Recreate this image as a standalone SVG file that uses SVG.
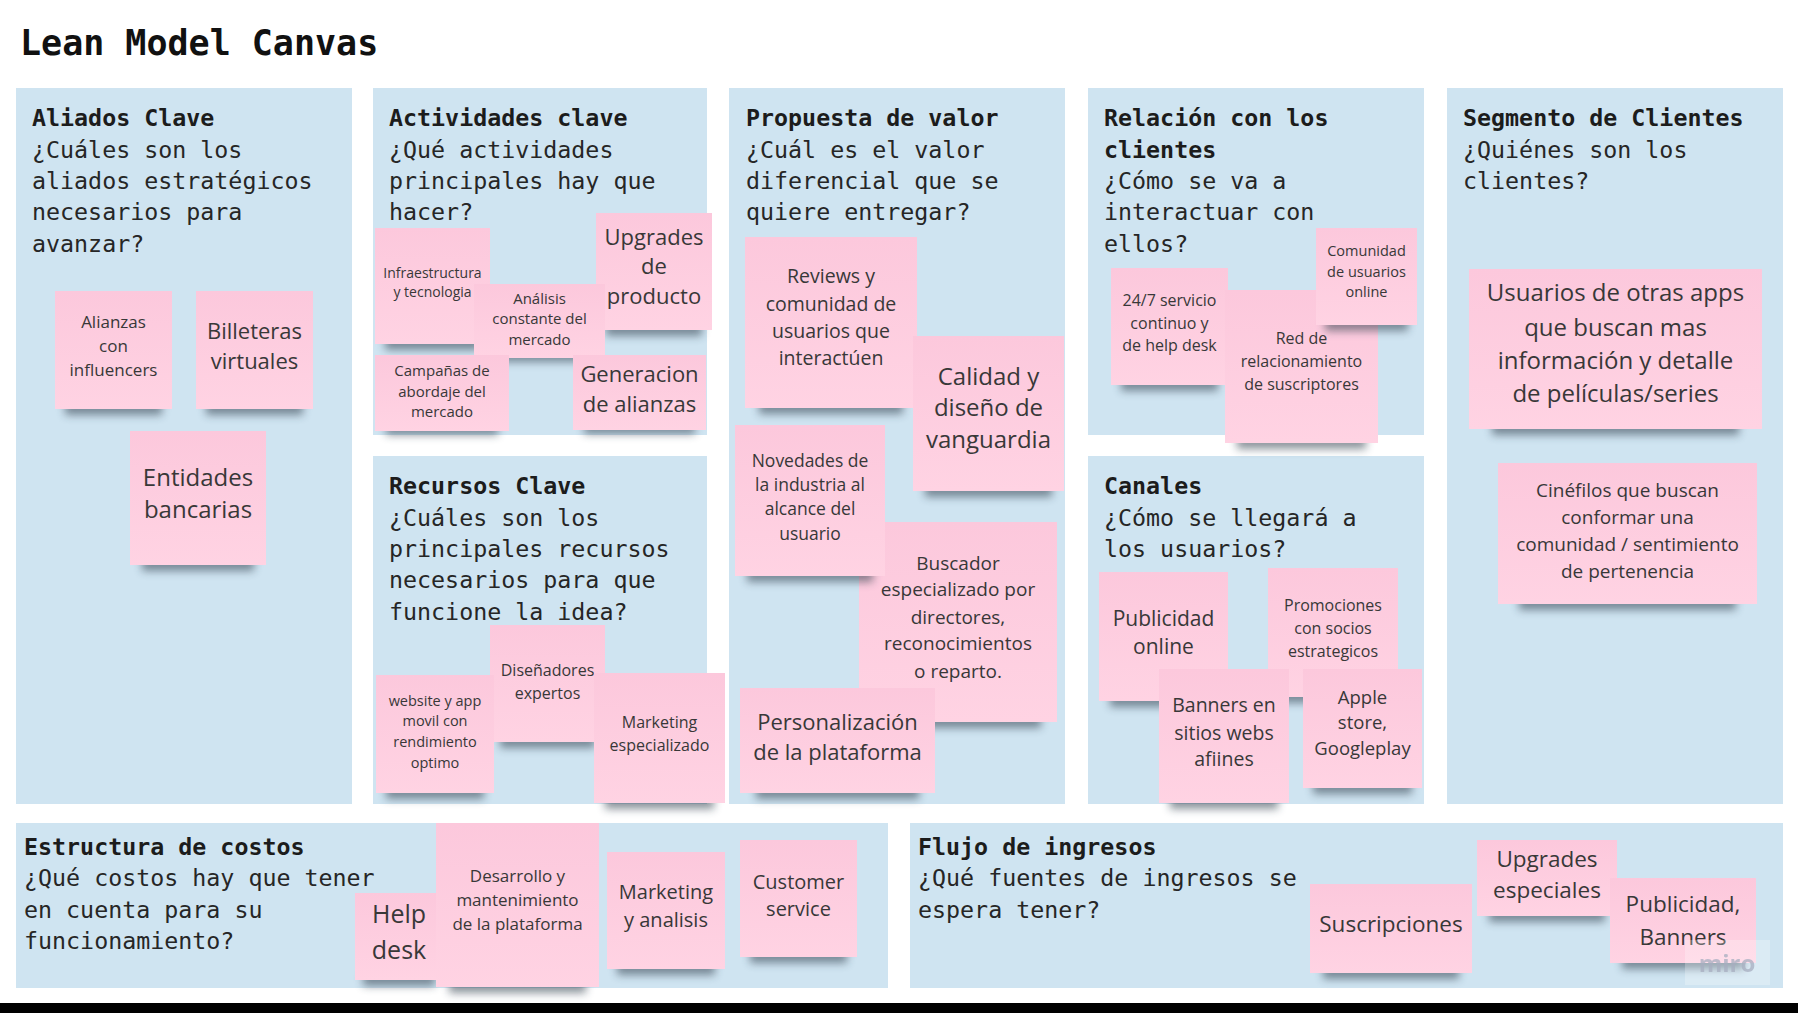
<svg xmlns="http://www.w3.org/2000/svg" width="1798" height="1013" viewBox="0 0 1798 1013">
<defs>
<linearGradient id="pk" x1="0" y1="0" x2="0" y2="1">
<stop offset="0" stop-color="#fcc8dc"/>
<stop offset="1" stop-color="#ffd3e3"/>
</linearGradient>
<filter id="bl" x="-20%" y="-100%" width="140%" height="300%">
<feGaussianBlur stdDeviation="4"/>
</filter>
</defs>
<style>
.pn{fill:#cfe4f1}
.st{fill:url(#pk)}
.sh{fill:#2f3d4b;opacity:.55;filter:url(#bl)}
.t{font-family:"Open Sans","Noto Sans",sans-serif;fill:#383838;text-anchor:middle}
.h{font-family:"DejaVu Sans Mono","Liberation Mono",monospace;font-size:23.3px;fill:#1c1c1c;font-weight:bold}
.q{font-family:"DejaVu Sans Mono","Liberation Mono",monospace;font-size:23.3px;fill:#262626}
</style>
<rect width="1798" height="1013" fill="#ffffff"/>
<text x="20" y="55" font-family="DejaVu Sans Mono, Liberation Mono, monospace" font-size="35" font-weight="bold" fill="#111">Lean Model Canvas</text>

<g id="panels">
<g id="aliados"><rect class="pn" x="16" y="88" width="336" height="716"/>
<text class="h" x="32" y="126">Aliados Clave</text>
<text class="q" x="32" y="157.5">¿Cuáles son los</text>
<text class="q" x="32" y="189">aliados estratégicos</text>
<text class="q" x="32" y="220">necesarios para</text>
<text class="q" x="32" y="251.5">avanzar?</text></g>
<g id="actividades"><rect class="pn" x="373" y="88" width="334" height="347"/>
<text class="h" x="389" y="126">Actividades clave</text>
<text class="q" x="389" y="157.5">¿Qué actividades</text>
<text class="q" x="389" y="189">principales hay que</text>
<text class="q" x="389" y="220">hacer?</text></g>
<g id="recursos"><rect class="pn" x="373" y="456" width="334" height="348"/>
<text class="h" x="389" y="494">Recursos Clave</text>
<text class="q" x="389" y="525.5">¿Cuáles son los</text>
<text class="q" x="389" y="557">principales recursos</text>
<text class="q" x="389" y="588">necesarios para que</text>
<text class="q" x="389" y="619.5">funcione la idea?</text></g>
<g id="propuesta"><rect class="pn" x="729" y="88" width="336" height="716"/>
<text class="h" x="746" y="126">Propuesta de valor</text>
<text class="q" x="746" y="157.5">¿Cuál es el valor</text>
<text class="q" x="746" y="189">diferencial que se</text>
<text class="q" x="746" y="220">quiere entregar?</text></g>
<g id="relacion"><rect class="pn" x="1088" y="88" width="336" height="347"/>
<text class="h" x="1104" y="126">Relación con los</text>
<text class="h" x="1104" y="157.5">clientes</text>
<text class="q" x="1104" y="189">¿Cómo se va a</text>
<text class="q" x="1104" y="220">interactuar con</text>
<text class="q" x="1104" y="251.5">ellos?</text></g>
<g id="canales"><rect class="pn" x="1088" y="456" width="336" height="348"/>
<text class="h" x="1104" y="494">Canales</text>
<text class="q" x="1104" y="525.5">¿Cómo se llegará a</text>
<text class="q" x="1104" y="557">los usuarios?</text></g>
<g id="segmento"><rect class="pn" x="1447" y="88" width="336" height="716"/>
<text class="h" x="1463" y="126">Segmento de Clientes</text>
<text class="q" x="1463" y="157.5">¿Quiénes son los</text>
<text class="q" x="1463" y="189">clientes?</text></g>
<g id="estructura"><rect class="pn" x="16" y="823" width="872" height="165"/>
<text class="h" x="24" y="854.5">Estructura de costos</text>
<text class="q" x="24" y="886">¿Qué costos hay que tener</text>
<text class="q" x="24" y="917.5">en cuenta para su</text>
<text class="q" x="24" y="949">funcionamiento?</text></g>
<g id="flujo"><rect class="pn" x="910" y="823" width="873" height="165"/>
<text class="h" x="918" y="854.5">Flujo de ingresos</text>
<text class="q" x="918" y="886">¿Qué fuentes de ingresos se</text>
<text class="q" x="918" y="917.5">espera tener?</text></g>
</g>

<g id="stickies">
<g id="s-alianzas"><rect class="sh" x="65" y="401" width="97" height="14"/><rect class="st" x="55" y="291" width="117" height="118"/>
<text class="t" font-size="17" x="113.5"><tspan x="113.5" y="328">Alianzas</tspan><tspan x="113.5" y="352">con</tspan><tspan x="113.5" y="376">influencers</tspan></text></g>
<g id="s-billeteras"><rect class="sh" x="206" y="401" width="97" height="14"/><rect class="st" x="196" y="291" width="117" height="118"/>
<text class="t" font-size="22"><tspan x="254.5" y="339">Billeteras</tspan><tspan x="254.5" y="369">virtuales</tspan></text></g>
<g id="s-entidades"><rect class="sh" x="142" y="557" width="112" height="14"/><rect class="st" x="130" y="431" width="136" height="134"/>
<text class="t" font-size="24"><tspan x="198" y="486">Entidades</tspan><tspan x="198" y="518">bancarias</tspan></text></g>

<g id="s-infra"><rect class="sh" x="385" y="336" width="95" height="14"/><rect class="st" x="375" y="228" width="115" height="116"/>
<text class="t" font-size="14"><tspan x="432.5" y="278">Infraestructura</tspan><tspan x="432.5" y="297">y tecnologia</tspan></text></g>
<g id="s-upgrades"><rect class="sh" x="606" y="322" width="96" height="14"/><rect class="st" x="596" y="213" width="116" height="117"/>
<text class="t" font-size="22"><tspan x="654" y="245">Upgrades</tspan><tspan x="654" y="274">de</tspan><tspan x="654" y="304">producto</tspan></text></g>
<g id="s-analisis"><rect class="sh" x="485" y="350" width="109" height="12"/><rect class="st" x="474" y="284" width="131" height="74"/>
<text class="t" font-size="15"><tspan x="539.5" y="303.5">Análisis</tspan><tspan x="539.5" y="323.5">constante del</tspan><tspan x="539.5" y="344.5">mercado</tspan></text></g>
<g id="s-campanas"><rect class="sh" x="386" y="423" width="112" height="12"/><rect class="st" x="375" y="355" width="134" height="76"/>
<text class="t" font-size="15"><tspan x="442" y="375.5">Campañas de</tspan><tspan x="442" y="396.5">abordaje del</tspan><tspan x="442" y="416.5">mercado</tspan></text></g>
<g id="s-generacion"><rect class="sh" x="584" y="422" width="111" height="12"/><rect class="st" x="573" y="355" width="133" height="75"/>
<text class="t" font-size="22"><tspan x="639.5" y="382">Generacion</tspan><tspan x="639.5" y="412">de alianzas</tspan></text></g>

<g id="s-disenadores"><rect class="sh" x="500" y="734" width="95" height="14"/><rect class="st" x="490" y="625" width="115" height="117"/>
<text class="t" font-size="16"><tspan x="547.5" y="675.5">Diseñadores</tspan><tspan x="547.5" y="698.5">expertos</tspan></text></g>
<g id="s-website"><rect class="sh" x="386" y="785" width="98" height="14"/><rect class="st" x="376" y="675" width="118" height="118"/>
<text class="t" font-size="14.5"><tspan x="435" y="706">website y app</tspan><tspan x="435" y="726">movil con</tspan><tspan x="435" y="747">rendimiento</tspan><tspan x="435" y="768">optimo</tspan></text></g>
<g id="s-marketing-esp"><rect class="sh" x="605" y="795" width="109" height="14"/><rect class="st" x="594" y="673" width="131" height="130"/>
<text class="t" font-size="16"><tspan x="659.5" y="727.5">Marketing</tspan><tspan x="659.5" y="750.5">especializado</tspan></text></g>

<g id="s-reviews"><rect class="sh" x="759" y="400" width="144" height="14"/><rect class="st" x="745" y="237" width="172" height="171"/>
<text class="t" font-size="19.5"><tspan x="831" y="283">Reviews y</tspan><tspan x="831" y="311">comunidad de</tspan><tspan x="831" y="338">usuarios que</tspan><tspan x="831" y="365">interactúen</tspan></text></g>
<g id="s-calidad"><rect class="sh" x="925" y="483" width="127" height="14"/><rect class="st" x="913" y="336" width="151" height="155"/>
<text class="t" font-size="24"><tspan x="988.5" y="385">Calidad y</tspan><tspan x="988.5" y="416">diseño de</tspan><tspan x="988.5" y="448">vanguardia</tspan></text></g>
<g id="s-buscador"><rect class="sh" x="875" y="714" width="166" height="14"/><rect class="st" x="859" y="522" width="198" height="200"/>
<text class="t" font-size="19"><tspan x="958" y="570">Buscador</tspan><tspan x="958" y="596">especializado por</tspan><tspan x="958" y="624">directores,</tspan><tspan x="958" y="650">reconocimientos</tspan><tspan x="958" y="678">o reparto.</tspan></text></g>
<g id="s-novedades"><rect class="sh" x="747" y="568" width="126" height="14"/><rect class="st" x="735" y="425" width="150" height="151"/>
<text class="t" font-size="17.5"><tspan x="810" y="466.5">Novedades de</tspan><tspan x="810" y="490.5">la industria al</tspan><tspan x="810" y="514.5">alcance del</tspan><tspan x="810" y="539.5">usuario</tspan></text></g>
<g id="s-personalizacion"><rect class="sh" x="756" y="785" width="163" height="14"/><rect class="st" x="740" y="688" width="195" height="105"/>
<text class="t" font-size="22"><tspan x="837.5" y="730">Personalización</tspan><tspan x="837.5" y="760">de la plataforma</tspan></text></g>

<g id="s-247"><rect class="sh" x="1121" y="377" width="97" height="14"/><rect class="st" x="1111" y="268" width="117" height="117"/>
<text class="t" font-size="16"><tspan x="1169.5" y="305.5">24/7 servicio</tspan><tspan x="1169.5" y="328.5">continuo y</tspan><tspan x="1169.5" y="350.5">de help desk</tspan></text></g>
<g id="s-red"><rect class="sh" x="1237" y="435" width="129" height="14"/><rect class="st" x="1225" y="290" width="153" height="153"/>
<text class="t" font-size="16"><tspan x="1301.5" y="343.5">Red de</tspan><tspan x="1301.5" y="366.5">relacionamiento</tspan><tspan x="1301.5" y="389.5">de suscriptores</tspan></text></g>
<g id="s-comunidad"><rect class="sh" x="1325" y="317" width="83" height="14"/><rect class="st" x="1316" y="228" width="101" height="97"/>
<text class="t" font-size="14.5"><tspan x="1366.5" y="256">Comunidad</tspan><tspan x="1366.5" y="277">de usuarios</tspan><tspan x="1366.5" y="297">online</tspan></text></g>

<g id="s-publicidad-online"><rect class="sh" x="1110" y="693" width="107" height="14"/><rect class="st" x="1099" y="572" width="129" height="129"/>
<text class="t" font-size="21"><tspan x="1163.5" y="625.5">Publicidad</tspan><tspan x="1163.5" y="653.5">online</tspan></text></g>
<g id="s-promociones"><rect class="sh" x="1279" y="689" width="108" height="14"/><rect class="st" x="1268" y="568" width="130" height="129"/>
<text class="t" font-size="16"><tspan x="1333" y="610.5">Promociones</tspan><tspan x="1333" y="633.5">con socios</tspan><tspan x="1333" y="656.5">estrategicos</tspan></text></g>
<g id="s-banners"><rect class="sh" x="1170" y="795" width="108" height="14"/><rect class="st" x="1159" y="669" width="130" height="134"/>
<text class="t" font-size="19.5"><tspan x="1224" y="712">Banners en</tspan><tspan x="1224" y="740">sitios webs</tspan><tspan x="1224" y="766">afiines</tspan></text></g>
<g id="s-apple"><rect class="sh" x="1313" y="780" width="99" height="14"/><rect class="st" x="1303" y="669" width="119" height="119"/>
<text class="t" font-size="18.5"><tspan x="1362.5" y="703.5">Apple</tspan><tspan x="1362.5" y="728.5">store,</tspan><tspan x="1362.5" y="754.5">Googleplay</tspan></text></g>

<g id="s-usuarios"><rect class="sh" x="1492" y="421" width="247" height="14"/><rect class="st" x="1469" y="269" width="293" height="160"/>
<text class="t" font-size="24"><tspan x="1615.5" y="300.5">Usuarios de otras apps</tspan><tspan x="1615.5" y="335.5">que buscan mas</tspan><tspan x="1615.5" y="368.5">información y detalle</tspan><tspan x="1615.5" y="401.5">de películas/series</tspan></text></g>
<g id="s-cinefilos"><rect class="sh" x="1519" y="596" width="217" height="14"/><rect class="st" x="1498" y="463" width="259" height="141"/>
<text class="t" font-size="19"><tspan x="1627.5" y="497">Cinéfilos que buscan</tspan><tspan x="1627.5" y="524">conformar una</tspan><tspan x="1627.5" y="551">comunidad / sentimiento</tspan><tspan x="1627.5" y="578">de pertenencia</tspan></text></g>

<g id="s-helpdesk"><rect class="sh" x="363" y="972" width="72" height="14"/><rect class="st" x="355" y="893" width="88" height="87"/>
<text class="t" font-size="25"><tspan x="399" y="923">Help</tspan><tspan x="399" y="959">desk</tspan></text></g>
<g id="s-desarrollo"><rect class="sh" x="449" y="979" width="137" height="14"/><rect class="st" x="436" y="823" width="163" height="164"/>
<text class="t" font-size="17"><tspan x="517.5" y="882">Desarrollo y</tspan><tspan x="517.5" y="906">mantenimiento</tspan><tspan x="517.5" y="930">de la plataforma</tspan></text></g>
<g id="s-marketing-analisis"><rect class="sh" x="617" y="961" width="98" height="14"/><rect class="st" x="607" y="852" width="118" height="117"/>
<text class="t" font-size="20"><tspan x="666" y="899">Marketing</tspan><tspan x="666" y="927">y analisis</tspan></text></g>
<g id="s-customer"><rect class="sh" x="750" y="949" width="97" height="14"/><rect class="st" x="740" y="840" width="117" height="117"/>
<text class="t" font-size="20"><tspan x="798.5" y="889">Customer</tspan><tspan x="798.5" y="916">service</tspan></text></g>

<g id="s-suscripciones"><rect class="sh" x="1323" y="965" width="136" height="14"/><rect class="st" x="1310" y="884" width="162" height="89"/>
<text class="t" font-size="22.5"><tspan x="1391" y="932">Suscripciones</tspan></text></g>
<g id="s-upgrades-esp"><rect class="sh" x="1489" y="908" width="116" height="14"/><rect class="st" x="1477" y="840" width="140" height="76"/>
<text class="t" font-size="22.5"><tspan x="1547" y="867">Upgrades</tspan><tspan x="1547" y="898">especiales</tspan></text></g>
<g id="s-publicidad-banners"><rect class="sh" x="1622" y="955" width="122" height="14"/><rect class="st" x="1610" y="878" width="146" height="85"/>
<text class="t" font-size="22.5"><tspan x="1683" y="912">Publicidad,</tspan><tspan x="1683" y="945">Banners</tspan></text></g>
</g>

<g id="watermark">
<rect x="1685" y="940" width="85" height="45" fill="#ffffff" opacity="0.25"/>
<text x="1727" y="972" font-family="Open Sans, sans-serif" font-size="24" font-weight="bold" fill="#a7aec0" opacity="0.75" text-anchor="middle">miro</text>
</g>
<rect x="0" y="1003" width="1798" height="10" fill="#000000"/>
</svg>
